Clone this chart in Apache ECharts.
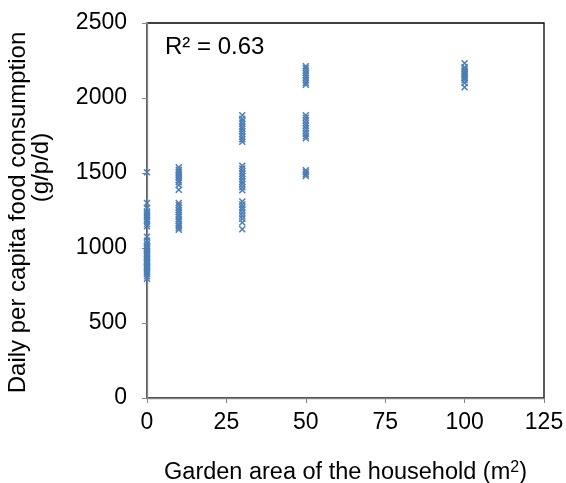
<!DOCTYPE html>
<html><head><meta charset="utf-8">
<script src="https://cdn.jsdelivr.net/npm/echarts@6/dist/echarts.min.js"></script>
<style>html,body{margin:0;padding:0;background:#fff}#c{width:566px;height:483px}</style>
</head><body><div id="c"></div>
<script>
const xTicks = [0, 25, 50, 75, 100, 125];
const yTicks = [0, 500, 1000, 1500, 2000, 2500];
const area0 = [0, 0, 0, 0, 0, 0, 0, 0, 0, 0, 0, 0, 0, 0, 0, 0, 0, 0, 0, 0, 0, 0, 0, 0, 0, 0, 0, 0, 0, 0, 0, 0, 0, 0, 0, 0];
const cons0 = [1505, 1300, 1265, 1245, 1232, 1218, 1205, 1190, 1178, 1160, 1145, 1075, 1048, 1032, 1015, 1002, 990, 978, 965, 952, 940, 928, 915, 903, 890, 878, 866, 855, 842, 830, 905, 960, 1010, 870, 812, 795];
const area10 = [10, 10, 10, 10, 10, 10, 10, 10, 10, 10, 10, 10, 10, 10, 10, 10, 10, 10, 10, 10, 10, 10, 10];
const cons10 = [1538, 1522, 1508, 1495, 1482, 1468, 1452, 1438, 1420, 1388, 1300, 1285, 1268, 1252, 1238, 1222, 1208, 1192, 1178, 1162, 1148, 1135, 1122];
const area30 = [30, 30, 30, 30, 30, 30, 30, 30, 30, 30, 30, 30, 30, 30, 30, 30, 30, 30, 30, 30, 30, 30, 30, 30, 30, 30, 30, 30, 30, 30];
const cons30 = [1885, 1862, 1845, 1828, 1810, 1795, 1778, 1760, 1742, 1725, 1708, 1548, 1530, 1512, 1495, 1478, 1460, 1442, 1425, 1405, 1385, 1310, 1290, 1272, 1255, 1235, 1215, 1195, 1170, 1125];
const area50 = [50, 50, 50, 50, 50, 50, 50, 50, 50, 50, 50, 50, 50, 50, 50, 50, 50, 50, 50, 50, 50, 50, 50];
const cons50 = [2212, 2198, 2182, 2165, 2150, 2135, 2118, 2102, 2088, 1885, 1868, 1850, 1832, 1815, 1798, 1780, 1762, 1745, 1732, 1518, 1505, 1492, 1480];
const area100 = [100, 100, 100, 100, 100, 100, 100, 100, 100, 100, 100, 100];
const cons100 = [2232, 2205, 2192, 2180, 2170, 2160, 2150, 2140, 2130, 2118, 2100, 2072];
const r2Label = 'R² = 0.63';

const areas = [].concat(area0, area10, area30, area50, area100);
const cons = [].concat(cons0, cons10, cons30, cons50, cons100);
const pts = areas.map((a, i) => [a, cons[i]]);

const chart = echarts.init(document.getElementById('c'), null, {renderer: 'canvas'});
const font = 'Liberation Sans, Arial, sans-serif';
chart.setOption({
  animation: false,
  grid: {left: 147, top: 23, right: 22, bottom: 85, containLabel: false, outerBoundsMode: 'none',
    show: true, borderColor: '#000', borderWidth: 1.3, backgroundColor: 'transparent'},
  xAxis: {
    type: 'value', min: xTicks[0], max: xTicks[xTicks.length - 1], interval: 25,
    axisLine: {show: true, lineStyle: {color: '#868686', width: 1.3}},
    axisTick: {show: true, inside: false, length: 5, lineStyle: {color: '#868686'}},
    splitLine: {show: false},
    axisLabel: {color: '#000', fontSize: 23, fontFamily: font, margin: 13, formatter: v => String(v)},
    name: 'Garden area of the household (m{sup|2})',
    nameLocation: 'middle', nameGap: 62,
    nameTextStyle: {color: '#000', fontSize: 23.5, fontFamily: font,
      rich: {sup: {fontSize: 16, fontFamily: font, color: '#000', verticalAlign: 'top', padding: [0, 0, 10, 0]}}}
  },
  yAxis: {
    type: 'value', min: yTicks[0], max: yTicks[yTicks.length - 1], interval: 500,
    axisLine: {show: true, lineStyle: {color: '#868686', width: 1.3}},
    axisTick: {show: true, inside: false, length: 5, lineStyle: {color: '#868686'}},
    splitLine: {show: false},
    axisLabel: {color: '#000', fontSize: 23, fontFamily: font, margin: 20, formatter: v => String(v)},
    name: '{a|Daily per capita food consumption}\n{b|(g/p/d)}',
    nameLocation: 'middle', nameGap: 94, nameRotate: 90,
    nameTextStyle: {color: '#000', fontSize: 24, fontFamily: font, lineHeight: 23,
      rich: {a: {fontSize: 24, fontFamily: font, color: '#000', lineHeight: 23, padding: [0, 4, 0, 0]},
             b: {fontSize: 24, fontFamily: font, color: '#000', lineHeight: 23, padding: [0, 0, 0, 86]}}}
  },
  graphic: [{type: 'text', left: 165, top: 35, style: {text: r2Label, fontSize: 24, fontFamily: font, fill: '#000'}}],
  series: [{
    type: 'scatter', data: pts,
    symbol: 'path://M0,1.5L1.5,0L5,3.5L8.5,0L10,1.5L6.5,5L10,8.5L8.5,10L5,6.5L1.5,10L0,8.5L3.5,5Z',
    symbolSize: 7,
    itemStyle: {color: '#4a7ebb', opacity: 1}
  }]
});
</script></body></html>
